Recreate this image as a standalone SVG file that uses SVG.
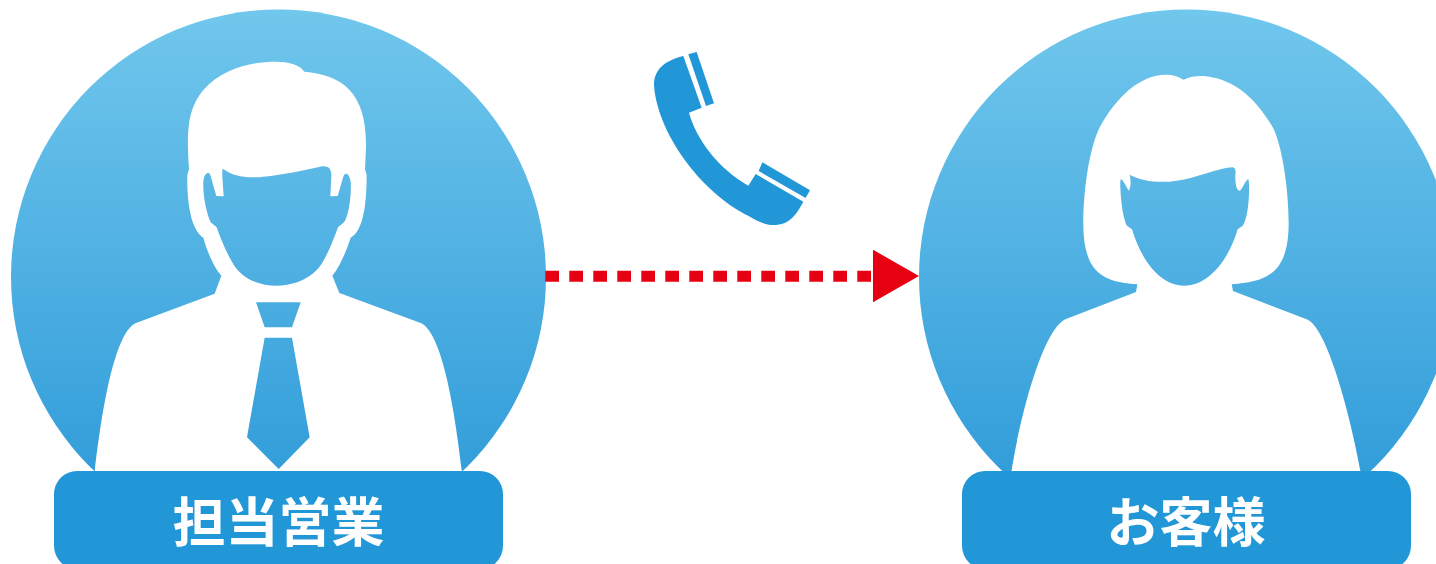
<svg xmlns="http://www.w3.org/2000/svg" width="1436" height="564" viewBox="0 0 1436 564">
<style>
.fig{fill:#fff;fill-rule:evenodd}
.lab{fill:#2297D7}
.txt{fill:#fff;font-family:"Noto Sans CJK JP","Noto Sans CJK SC",sans-serif;font-size:53px;font-weight:700;text-anchor:middle}
.dash{stroke:#E60012;stroke-width:11;stroke-dasharray:13.7 10.3;fill:none}
</style>
<defs>
<linearGradient id="g" gradientUnits="userSpaceOnUse" x1="0" y1="9" x2="0" y2="500">
<stop offset="0" stop-color="#71C7EC"/><stop offset="1" stop-color="#2F9BD9"/>
</linearGradient>
</defs>
<rect width="1436" height="564" fill="#fff"/>
<g id="sales">
<circle cx="278.5" cy="277" r="267.5" fill="url(#g)"/>
<path class="fig" transform="translate(90 50) scale(.33333)" d="M14,1265C40,1040 80,840 140,818L374,731L394,677C370,650 350,600 340,563C310,545 290,480 292,375L297,358C290,250 290,180 340,120C400,50 500,35 555,35C600,35 630,45 643,65C760,75 830,130 828,290L825,358L830,375C830,480 815,545 782,563C770,600 750,650 727,677L748,729L990,818C1050,840 1090,1040 1116,1265Z
M400,357C430,380 470,385 520,380C580,375 650,358 690,350C715,345 725,355 724,380L721,439L743,438L760,380C765,365 778,370 782,395C785,440 775,500 762,517L744,532C725,585 705,630 685,655C650,695 600,707 560,707C510,707 465,690 435,650C415,620 395,575 380,532L362,517C350,490 338,440 340,395C342,370 355,365 360,372L379,438L401,439L397,380C396,360 398,355 400,357Z
M498,757H632L606,832H524Z
M524,863H606L659,1162L566,1257L471,1162Z"/>
<rect class="lab" x="54" y="471" width="449" height="98" rx="23"/>
<text class="txt" x="278.5" y="542">担当営業</text>
</g>
<g id="customer">
<circle cx="1186.5" cy="277" r="267.5" fill="url(#g)"/>
<path class="fig" transform="translate(1000 60) scale(.33333)" d="M34,1236C60,1070 130,800 200,776L408,696L412,673C320,665 250,650 250,490C250,400 265,270 300,200C350,110 420,45 497,44C520,44 535,50 551,59C570,50 590,47 610,48C690,55 760,100 820,205C850,270 866,400 866,490C866,650 790,665 695,673L699,693L920,778C980,800 1050,1060 1082,1236Z
M389,344C430,365 480,370 530,362C590,355 650,325 695,322C708,322 708,335 706,345C705,370 710,395 720,392C728,385 740,355 745,358C750,370 748,470 728,497L713,508C690,590 630,677 553,677C475,677 420,590 396,508L381,497C365,470 358,370 362,358C368,355 380,385 387,392C393,380 393,360 389,344Z"/>
<rect class="lab" x="962" y="471" width="449" height="98" rx="23"/>
<text class="txt" x="1186" y="542">お客様</text>
</g>
<g id="phone" transform="translate(640 40) scale(.33333)" fill="#2297D7">
<path d="M130,48L185,203L147,218C170,300 235,385 325,437L347,402L490,485C470,522 450,555 400,555C375,555 350,542 330,530C175,455 50,270 42,135C42,85 80,60 130,48Z"/>
<path d="M145,43L170,36L222,190L198,198Z"/>
<path d="M367,367L510,451L497,474L356,393Z"/>
</g>
<g id="connectors">
<path class="dash" d="M545.3,276.2H872"/>
<path d="M873,249.7L919,276L873,302.3Z" fill="#E60012"/>
</g>
</svg>
